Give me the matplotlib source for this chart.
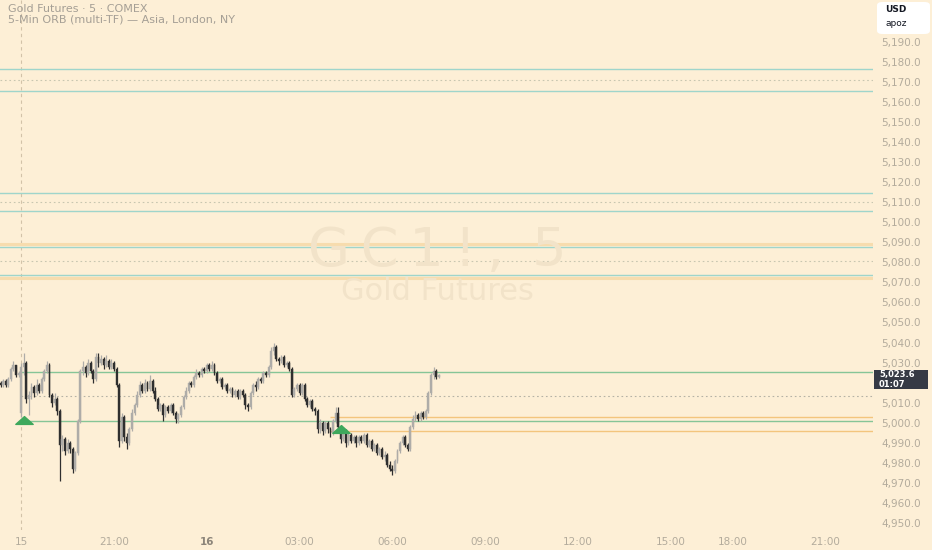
import matplotlib
matplotlib.use("Agg")
import matplotlib.pyplot as plt
import numpy as np
from matplotlib.patches import FancyBboxPatch, Rectangle
from matplotlib.path import Path

plt.rcParams['font.family'] = ['DejaVu Sans']

bg = '#fdefd6'

# 5-min candles, bar 0 = session open of the 15th
bar_start = -8
opens = [
    5020, 5019, 5021, 5019, 5022, 5027, 5029, 5024, 5005,
    5028, 5030, 5012, 5014, 5018, 5015, 5019, 5016, 5022, 5026,
    5029, 5014, 5010, 5012, 5006, 4989, 4992, 4986, 4990, 4987,
    4977, 4985, 5001, 5026, 5028, 5025, 5030, 5026, 5022, 5033,
    5030, 5032, 5029, 5031, 5028, 5030, 5027, 5019, 4991, 5003,
    4993, 4990, 4997, 5005, 5009, 5014, 5019, 5016, 5020, 5017,
    5021, 5016, 5012, 5007, 5009, 5004, 5008, 5006, 5009, 5005,
    5002, 5004, 5008, 5013, 5016, 5020, 5019, 5023, 5025, 5024,
    5027, 5026, 5029, 5027, 5029, 5025, 5021, 5022, 5018, 5019,
    5016, 5017, 5014, 5016, 5013, 5016, 5014, 5009, 5008, 5015,
    5019, 5018, 5022, 5021, 5025, 5024, 5028, 5036, 5038, 5032,
    5031, 5033, 5029, 5030, 5027, 5014, 5017, 5019, 5015, 5019,
    5012, 5009, 5011, 5007, 5006, 4997, 5000, 4996, 5000, 4997,
    4995, 5001, 5005, 4998, 4992, 4995, 4990, 4994, 4991, 4993,
    4990, 4993, 4991, 4994, 4989, 4991, 4987, 4989, 4985, 4987,
    4983, 4984, 4979, 4977, 4976, 4981, 4986, 4990, 4993, 4989,
    4987, 4998, 5002, 5004, 5002, 5005, 5003, 5006, 5015, 5024, 5026, 5023,
]
highs = [
    5021, 5022, 5022, 5023, 5028, 5031, 5029, 5026, 5030,
    5035, 5031, 5016, 5020, 5019, 5022, 5020, 5023, 5027, 5031,
    5030, 5015, 5015, 5013, 5007, 4994, 4993, 4992, 4991, 4988,
    4986, 5002, 5027, 5031, 5029, 5032, 5031, 5027, 5035, 5035,
    5034, 5033, 5034, 5032, 5032, 5031, 5028, 5020, 5005, 5004,
    4995, 4998, 5007, 5010, 5016, 5021, 5020, 5022, 5021, 5024,
    5022, 5018, 5013, 5010, 5010, 5009, 5009, 5010, 5010, 5006,
    5005, 5009, 5014, 5018, 5021, 5021, 5024, 5027, 5026, 5028,
    5028, 5030, 5030, 5031, 5030, 5026, 5023, 5023, 5020, 5020,
    5018, 5018, 5017, 5017, 5017, 5017, 5015, 5010, 5016, 5020,
    5021, 5023, 5023, 5026, 5026, 5029, 5038, 5040, 5039, 5033,
    5034, 5034, 5031, 5031, 5028, 5018, 5020, 5020, 5020, 5020,
    5013, 5012, 5012, 5008, 5007, 5002, 5001, 5001, 5001, 4998,
    5002, 5008, 5008, 4999, 4996, 4997, 4995, 4995, 4994, 4994,
    4994, 4994, 4995, 4995, 4992, 4992, 4990, 4990, 4988, 4988,
    4986, 4985, 4981, 4979, 4982, 4987, 4991, 4994, 4994, 4990,
    4999, 5004, 5006, 5005, 5006, 5006, 5007, 5016, 5025, 5028, 5027, 5024.5,
]
lows = [
    5018, 5018, 5018, 5018, 5021, 5026, 5023, 5023, 5003,
    5024, 5010, 5004, 5012, 5013, 5014, 5015, 5015, 5021, 5025,
    5013, 5008, 5009, 5004, 4971, 4986, 4984, 4985, 4985, 4975,
    4976, 4984, 5000, 5024, 5023, 5024, 5025, 5020, 5021, 5028,
    5029, 5027, 5028, 5027, 5027, 5026, 5018, 4988, 4990, 4991,
    4987, 4989, 4996, 5004, 5008, 5013, 5015, 5015, 5016, 5016,
    5015, 5011, 5006, 5006, 5001, 5003, 5005, 5005, 5004, 5000,
    5000, 5003, 5007, 5012, 5015, 5018, 5018, 5022, 5023, 5023,
    5025, 5025, 5026, 5026, 5024, 5020, 5020, 5017, 5017, 5015,
    5015, 5013, 5013, 5012, 5012, 5013, 5007, 5006, 5007, 5014,
    5016, 5017, 5020, 5020, 5023, 5023, 5027, 5034, 5031, 5029,
    5030, 5028, 5028, 5026, 5013, 5013, 5016, 5014, 5014, 5011,
    5008, 5008, 5006, 5004, 4995, 4995, 4994, 4995, 4995, 4993,
    4994, 5000, 4997, 4990, 4991, 4988, 4989, 4990, 4990, 4988,
    4989, 4990, 4990, 4988, 4988, 4986, 4986, 4984, 4984, 4982,
    4981, 4978, 4976, 4974, 4975, 4980, 4985, 4989, 4988, 4986,
    4986, 4997, 5001, 5001, 5001, 5002, 5002, 5005, 5014, 5022, 5022, 5022.5,
]
closes = [
    5019, 5021, 5019, 5022, 5027, 5029, 5024, 5025, 5028,
    5030, 5012, 5014, 5018, 5015, 5019, 5016, 5022, 5026, 5029,
    5014, 5010, 5012, 5006, 4989, 4992, 4986, 4990, 4987, 4977,
    4985, 5001, 5026, 5028, 5025, 5030, 5026, 5022, 5033, 5030,
    5032, 5029, 5031, 5028, 5030, 5027, 5019, 4991, 5003, 4993,
    4990, 4997, 5005, 5009, 5014, 5019, 5016, 5020, 5017, 5021,
    5016, 5012, 5007, 5009, 5004, 5008, 5006, 5009, 5005, 5002,
    5004, 5008, 5013, 5016, 5020, 5019, 5023, 5025, 5024, 5027,
    5026, 5029, 5027, 5029, 5025, 5021, 5022, 5018, 5019, 5016,
    5017, 5014, 5016, 5013, 5016, 5014, 5009, 5008, 5015, 5019,
    5018, 5022, 5021, 5025, 5024, 5028, 5036, 5038, 5032, 5031,
    5033, 5029, 5030, 5027, 5014, 5017, 5019, 5015, 5019, 5012,
    5009, 5011, 5007, 5006, 4997, 5000, 4996, 5000, 4997, 4995,
    5001, 5005, 4998, 4992, 4995, 4990, 4994, 4991, 4993, 4990,
    4993, 4991, 4994, 4989, 4991, 4987, 4989, 4985, 4987, 4983,
    4984, 4979, 4977, 4976, 4981, 4986, 4990, 4993, 4989, 4987,
    4998, 5002, 5004, 5002, 5005, 5003, 5006, 5015, 5024, 5026, 5023, 5023.6,
]

# opening-range levels
old_teal = [5176.4, 5165.4, 5114.4, 5105.6, 5087.6, 5073.8]
old_orange = [5089.1, 5072.0]
old_mid = [5170.9, 5110.0, 5080.7]
asia_levels = [5025.4, 5001.0]
asia_mid = 5013.2
asia_start = 0
london_levels = [5003.0, 4995.9]
london_start = 120
signal_bars = [1, 124]
signal_prices = [5001.5, 4997.0]

tick_bars = [0, 36, 72, 108, 144, 180, 216, 252, 276, 312]
tick_labels = ['15', '21:00', '16', '03:00', '06:00', '09:00', '12:00', '15:00', '18:00', '21:00']
# 5,020.0 sits under the last-price label, so it is not shown
price_ticks = [4950, 4960, 4970, 4980, 4990, 5000, 5010, 5030, 5040, 5050, 5060, 5070,
               5080, 5090, 5100, 5110, 5120, 5130, 5140, 5150, 5160, 5170, 5180, 5190]
last_price = 5023.6
countdown = '01:07'

fig = plt.figure(figsize=(9.32, 5.5), dpi=100, facecolor=bg)
ax = fig.add_axes([0, 20 / 550, 873 / 932, 530 / 550])
ax.set_facecolor(bg)

x = np.arange(bar_start, bar_start + len(closes))
o = np.array(opens, float)
h = np.array(highs, float)
l = np.array(lows, float)
c = np.array(closes, float)
up = c >= o
cols = np.where(up, '#aeaca8', '#2f2f2f')

# levels
for lv in old_teal:
    ax.axhline(lv, color='#9fd5cb', lw=1.0, zorder=1)
for lv in old_orange:
    ax.axhline(lv, color='#f7dcae', lw=2.2, zorder=0.9)
for lv in old_mid:
    ax.axhline(lv, color='#c8c6b0', lw=0.8, ls=(0, (1.5, 2.5)), zorder=1)
ax.hlines(asia_levels, asia_start, 340, color='#86c597', lw=1.0, zorder=1)
ax.hlines(asia_mid, asia_start, 340, color='#b5b2a5', lw=0.8, ls=(0, (1.5, 2.5)), zorder=1)
ax.hlines(london_levels, london_start, 340, color='#f3c57d', lw=1.0, zorder=1)
ax.axvline(0, color='#d2c2a8', lw=0.8, ls=(0, (3, 3)), zorder=0.8)

# candles
ax.vlines(x, l, h, colors=cols, lw=0.9, zorder=3)
body = np.maximum(np.abs(c - o), 0.4)
ax.bar(x, body, bottom=np.minimum(o, c), width=0.72, color=cols,
       edgecolor=cols, lw=0.3, zorder=3)

tri = Path([(-1, -0.45), (1, -0.45), (0, 0.45), (-1, -0.45)],
           [Path.MOVETO, Path.LINETO, Path.LINETO, Path.CLOSEPOLY])
ax.plot(signal_bars, signal_prices, ls='none', marker=tri, ms=12.5,
        color='#3ea85c', zorder=4)

ax.set_xlim(-8.2, 330.5)
ax.set_ylim(4946.5, 5210.8)

ax.yaxis.tick_right()
ax.set_yticks(price_ticks)
ax.set_yticklabels([f'{v:,.1f}' for v in price_ticks])
ax.tick_params(axis='y', length=0, pad=6, labelsize=7.5, labelcolor='#b3ab9c')
ax.set_xticks(tick_bars)
ax.set_xticklabels(tick_labels)
ax.tick_params(axis='x', length=0, pad=5, labelsize=7.5, labelcolor='#b3ab9c')
for t in ax.get_xticklabels():
    if t.get_text() == '16':
        t.set_color('#8c857a')
        t.set_fontweight('bold')
for s in ax.spines.values():
    s.set_visible(False)

# watermark
fig.text(437 / 932, 1 - 251 / 550, 'G\u2009C\u20091\u2009!\u2009, \u20095', ha='center',
         va='center', fontsize=39, color='#f2e3c9', zorder=0)
fig.text(437 / 932, 1 - 292 / 550, 'Gold Futures', ha='center', va='center',
         fontsize=22, color='#f2e3c9', zorder=0)

# legend text
fig.text(8 / 932, 1 - 9 / 550, 'Gold Futures · 5 · COMEX', ha='left', va='center',
         fontsize=8, color='#a59f95')
fig.text(8 / 932, 1 - 20 / 550, '5-Min ORB (multi-TF) — Asia, London, NY', ha='left',
         va='center', fontsize=8, color='#a59f95')

# currency box
fig.patches.append(FancyBboxPatch((877 / 932, 1 - 34 / 550), 53 / 932, 32 / 550,
                                  boxstyle='round,pad=0,rounding_size=0.006',
                                  transform=fig.transFigure, fc='white', ec='none'))
fig.text(885 / 932, 1 - 10 / 550, 'USD', fontsize=6.5, color='#131722', va='center',
         fontweight='bold')
fig.text(885 / 932, 1 - 24 / 550, 'apoz', fontsize=6.5, color='#131722', va='center')

# last price label (price + bar countdown in one box)
fig.patches.append(Rectangle((874 / 932, 1 - 389 / 550), 54 / 932, 19 / 550,
                             transform=fig.transFigure, fc='#363a45', ec='none', zorder=5))
fig.text(879 / 932, 1 - 379.5 / 550, f'{last_price:,.1f}\n{countdown}', fontsize=6,
         color='white', fontweight='bold', va='center', ha='left', linespacing=1.15,
         zorder=6)

fig.savefig('out.png', dpi=100, facecolor=bg)
